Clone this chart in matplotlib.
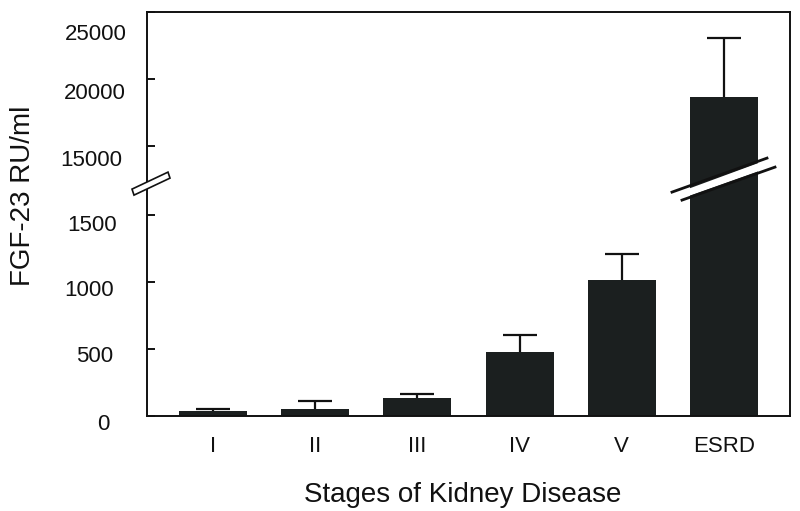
import numpy as np
import matplotlib
matplotlib.use("Agg")
import matplotlib.pyplot as plt
from matplotlib.patches import Polygon
from matplotlib.lines import Line2D
from matplotlib.transforms import ScaledTranslation
from matplotlib.ticker import FixedLocator, NullLocator

# ---- data ----
stages = ["I", "II", "III", "IV", "V", "ESRD"]
fgf23_mean = [40, 55, 135, 475, 1015, 18650]
fgf23_sem = [15, 55, 30, 130, 190, 4450]
ytick_values = [0, 500, 1000, 1500, 15000, 20000, 25000]
ytick_labels = ["0", "500", "1000", "1500", "15000", "20000", "25000"]

# ---- broken-axis scale ----
LOW_TOP = 1750.0
HIGH_BOT = 12400.0
RATIO = 0.1

def fwd(v):
    v = np.asarray(v, dtype=float)
    up = LOW_TOP + (v - HIGH_BOT) * RATIO
    return np.where(v <= LOW_TOP, v, np.where(v >= HIGH_BOT, up, LOW_TOP))

def inv(u):
    u = np.asarray(u, dtype=float)
    return np.where(u <= LOW_TOP, u, HIGH_BOT + (u - LOW_TOP) / RATIO)

plt.rcParams['font.family'] = ['Liberation Sans', 'DejaVu Sans']

W, H = 800, 511
fig = plt.figure(figsize=(W / 100, H / 100), dpi=100)
ax = fig.add_axes([147 / W, (H - 416) / H, 643 / W, 404 / H])
ax.set_yscale('function', functions=(fwd, inv))

x = np.arange(len(stages))
mean = np.array(fgf23_mean, dtype=float)
sem = np.array(fgf23_sem, dtype=float)
bar_color = '#1b1f1f'
ax.bar(x, mean, width=0.665, color=bar_color, zorder=2)
# upper-only error bars: stem + cap
ax.vlines(x, mean, mean + sem, colors='#111111', linewidth=1.6, zorder=3)
ax.plot(x, mean + sem, linestyle='none', marker='_', markersize=25,
        markeredgewidth=1.6, color='#111111', zorder=3)

ax.set_xlim(-0.646, 5.646)
ax.set_ylim(0, 25000)
ax.yaxis.set_major_locator(FixedLocator(ytick_values))
ax.yaxis.set_minor_locator(NullLocator())
ax.set_yticklabels(ytick_labels)
ax.set_xticks(x)
ax.set_xticklabels(stages)

for sp in ax.spines.values():
    sp.set_linewidth(1.4)
    sp.set_color('#111111')

ax.tick_params(axis='y', direction='in', length=6, width=1.4, pad=21,
               labelsize=16, colors='#111111')
ax.tick_params(axis='x', length=0, pad=14.5, labelsize=16, colors='#111111')

# small per-label shifts (px) mimicking the scanned original
dxs = [-8, -5, -4, -1, 4, 8, 9]
dys = [6, 5, 6, 8, 12, 12, 20]
for lab, dx, dy in zip(ax.get_yticklabels(), dxs, dys):
    lab.set_transform(lab.get_transform() +
                      ScaledTranslation(dx / 100, -dy / 100, fig.dpi_scale_trans))

ax.set_xlabel("Stages of Kidney Disease", fontsize=20, color='#111111')
ax.xaxis.set_label_coords(0.491, -0.163)
ax.set_ylabel("FGF-23 RU/ml", fontsize=20, color='#111111')
ax.yaxis.set_label_coords(-0.172, 0.545)

# ---- break marks (pixel offsets around the break level) ----
to_fig = fig.transFigure.inverted()

def pix_to_fig(anchor, offsets):
    pts = np.array([[anchor[0] + dx, anchor[1] + dy] for dx, dy in offsets])
    return to_fig.transform(pts)

# left axis break
a_left = ax.transData.transform((-0.646, LOW_TOP))
par = pix_to_fig(a_left, [(-15, -8), (21, 9), (23, 3), (-13, -14)])
fig.patches.append(Polygon(par, closed=True, facecolor='white', edgecolor='#111111',
                           linewidth=1.2, transform=fig.transFigure, zorder=10))

# ESRD bar break
a_bar = ax.transData.transform((5, LOW_TOP))
up_line = [(-52, -11), (43, 23)]
lo_line = [(-42, -19), (51, 14)]
band = pix_to_fig(a_bar, [(-50, -13), (45, 22), (49, 15), (-44, -18)])
fig.patches.append(Polygon(band, closed=True, facecolor='white', edgecolor='none',
                           transform=fig.transFigure, zorder=10))
for ln in (up_line, lo_line):
    p = pix_to_fig(a_bar, ln)
    fig.lines.append(Line2D(p[:, 0], p[:, 1], color='#111111', linewidth=2.0,
                            transform=fig.transFigure, zorder=11))

fig.savefig("out.png", dpi=100, facecolor='white')
